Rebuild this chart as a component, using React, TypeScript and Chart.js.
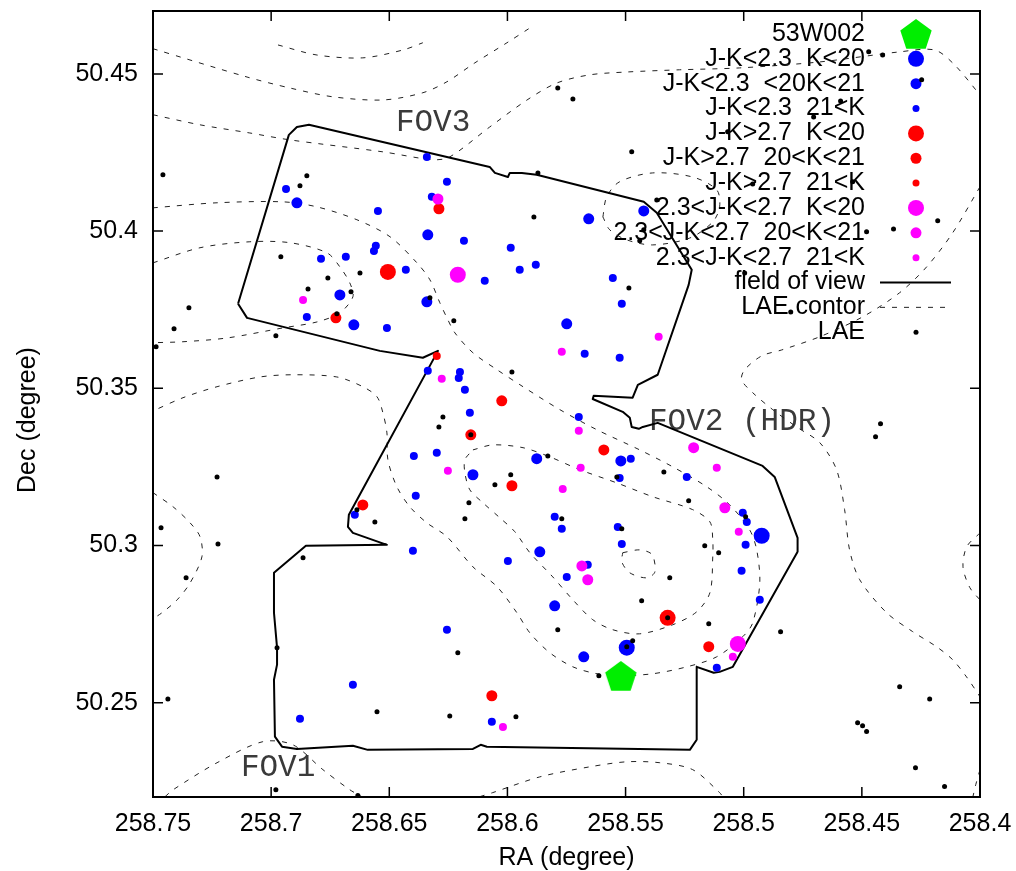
import React, { useEffect, useRef } from "react";
import { Chart, registerables } from "chart.js";

Chart.register(...registerables);

type P = [number, number];

// ---- axes ----
const raRange: P = [258.4, 258.75];
const decRange: P = [50.22, 50.47];
const xTickValues = [258.75, 258.7, 258.65, 258.6, 258.55, 258.5, 258.45, 258.4];
const yTickValues = [50.25, 50.3, 50.35, 50.4, 50.45];
const xTitle = "RA (degree)";
const yTitle = "Dec (degree)";

// ---- objects (RA, Dec) ----
const target53W002: P[] = [[258.552, 50.2585]];

const blueBright: P[] = [[258.5495, 50.2675], [258.4924, 50.3031]];
const blueMid: P[] = [
  [258.6891, 50.409], [258.6337, 50.3988], [258.6709, 50.3797], [258.665, 50.3702],
  [258.6341, 50.3775], [258.5749, 50.3705], [258.5423, 50.4064], [258.5656, 50.4039],
  [258.5876, 50.3276], [258.552, 50.3269], [258.6146, 50.3225], [258.5863, 50.298],
  [258.58, 50.2808], [258.5677, 50.2646],
];
const blueFaint: P[] = [
  [258.6341, 50.4236], [258.6937, 50.4134], [258.6256, 50.4157], [258.632, 50.4109],
  [258.6548, 50.4064], [258.6557, 50.3953], [258.6565, 50.3937], [258.6789, 50.3912],
  [258.6684, 50.3918], [258.643, 50.3877], [258.6849, 50.3727], [258.651, 50.3692],
  [258.6337, 50.3556], [258.6396, 50.3285], [258.6299, 50.3295], [258.6388, 50.3158],
  [258.6646, 50.3098], [258.6096, 50.3842], [258.5948, 50.3877], [258.588, 50.3893],
  [258.5554, 50.3851], [258.5516, 50.3769], [258.5673, 50.361], [258.5525, 50.3597],
  [258.6201, 50.3552], [258.6206, 50.3533], [258.618, 50.3495], [258.6159, 50.3422],
  [258.5698, 50.3409], [258.5478, 50.3276], [258.5241, 50.3218], [258.5525, 50.3215],
  [258.58, 50.3091], [258.577, 50.3053], [258.5533, 50.3059], [258.5004, 50.3104],
  [258.4987, 50.3075], [258.4992, 50.3002], [258.5009, 50.292], [258.5516, 50.3005],
  [258.5998, 50.2951], [258.566, 50.2939], [258.5749, 50.29], [258.6256, 50.2732],
  [258.5114, 50.2611], [258.6066, 50.2439], [258.64, 50.2983], [258.6654, 50.2557],
  [258.6878, 50.2449], [258.6184, 50.3969], [258.5986, 50.3947], [258.4932, 50.2827],
];

const redBright: P[] = [[258.6506, 50.387], [258.5322, 50.277]];
const redMid: P[] = [
  [258.629, 50.4071], [258.6726, 50.3724], [258.6024, 50.346], [258.6155, 50.3352],
  [258.5592, 50.3304], [258.5981, 50.319], [258.6612, 50.3129], [258.5148, 50.2678],
  [258.6066, 50.2522],
];
const redFaint: P[] = [[258.6299, 50.3603]];

const magentaBright: P[] = [[258.621, 50.3861], [258.5025, 50.2687]];
const magentaMid: P[] = [
  [258.5212, 50.3311], [258.508, 50.312], [258.5685, 50.2935], [258.566, 50.2891],
  [258.6294, 50.4102],
];
const magentaFaint: P[] = [
  [258.6865, 50.3781], [258.6278, 50.353], [258.577, 50.3616], [258.536, 50.3664],
  [258.5698, 50.3365], [258.5114, 50.3247], [258.569, 50.3247], [258.6252, 50.3238],
  [258.5766, 50.318], [258.5021, 50.3044], [258.5046, 50.2646], [258.6019, 50.2423],
];

const lae: P[] = [
  [258.7458, 50.4179], [258.6849, 50.4176], [258.6878, 50.4144], [258.6959, 50.3918],
  [258.676, 50.3851], [258.6624, 50.3867], [258.6844, 50.3816], [258.6662, 50.3807],
  [258.6722, 50.3737], [258.6328, 50.3788], [258.7348, 50.3756], [258.7411, 50.3689],
  [258.698, 50.3667], [258.7487, 50.3632], [258.6273, 50.3409], [258.629, 50.3377],
  [258.6637, 50.3114], [258.6561, 50.3075], [258.7229, 50.3218], [258.7466, 50.3056],
  [258.5486, 50.3819], [258.6227, 50.3715], [258.5981, 50.3552], [258.6155, 50.3352],
  [258.5829, 50.3285], [258.5338, 50.3234], [258.5537, 50.3218], [258.5986, 50.3225],
  [258.6053, 50.3193], [258.5233, 50.3142], [258.6163, 50.3136], [258.618, 50.3085],
  [258.577, 50.3085], [258.5516, 50.3053], [258.4421, 50.3387], [258.4442, 50.3346],
  [258.4992, 50.3091], [258.5165, 50.2999], [258.5106, 50.2977], [258.5313, 50.2897],
  [258.5432, 50.2824], [258.5322, 50.277], [258.5148, 50.2751], [258.5787, 50.2732],
  [258.5495, 50.2678], [258.547, 50.2697], [258.621, 50.2659], [258.5613, 50.2586],
  [258.6244, 50.2458], [258.5964, 50.2455], [258.4844, 50.2726], [258.434, 50.2551],
  [258.4213, 50.2512], [258.4518, 50.2436], [258.4497, 50.2427], [258.448, 50.2408],
  [258.4273, 50.2293], [258.415, 50.2233], [258.7225, 50.3005], [258.736, 50.2897],
  [258.6865, 50.2961], [258.6975, 50.2675], [258.7437, 50.2512], [258.6552, 50.2471],
  [258.698, 50.2223], [258.6633, 50.2205], [258.5787, 50.4455], [258.5723, 50.442],
  [258.5474, 50.4252], [258.5871, 50.4185], [258.5368, 50.4099], [258.5888, 50.4045],
  [258.5423, 50.4004], [258.544, 50.3969], [258.5068, 50.4316], [258.4471, 50.457],
  [258.4412, 50.456], [258.4247, 50.4481], [258.459, 50.4414], [258.4704, 50.4363],
  [258.4962, 50.415], [258.4539, 50.4157], [258.4179, 50.4033], [258.4366, 50.4007],
  [258.448, 50.3998], [258.4996, 50.3867], [258.4801, 50.3743],
];

// ---- field of view outline ----
const fieldOfView: P[] = [
  [258.714, 50.3769], [258.6925, 50.4306], [258.6891, 50.4331], [258.684, 50.4338],
  [258.6075, 50.4204], [258.6053, 50.4185], [258.5998, 50.4172], [258.599, 50.4185],
  [258.5939, 50.4185], [258.5876, 50.4179], [258.5423, 50.4093], [258.5368, 50.4058],
  [258.522, 50.3877], [258.5233, 50.3829], [258.5364, 50.3543], [258.5448, 50.3511],
  [258.547, 50.347], [258.5635, 50.3476], [258.5639, 50.3466], [258.5512, 50.3425],
  [258.5482, 50.3406], [258.5474, 50.3377], [258.5444, 50.3371], [258.5427, 50.3377],
  [258.5364, 50.339], [258.492, 50.3253], [258.4869, 50.3218], [258.4772, 50.3024],
  [258.4772, 50.298], [258.5046, 50.2614], [258.5102, 50.2598], [258.5127, 50.2595],
  [258.5199, 50.2614], [258.5199, 50.2382], [258.5228, 50.235], [258.6087, 50.236],
  [258.6113, 50.2366], [258.6146, 50.2353], [258.6591, 50.235], [258.6654, 50.2363],
  [258.6891, 50.2353], [258.6954, 50.236], [258.6984, 50.2392], [258.6988, 50.2573],
  [258.6975, 50.2621], [258.6975, 50.2675], [258.6988, 50.2786], [258.6988, 50.2913],
  [258.6853, 50.2999], [258.651, 50.3002], [258.6654, 50.304], [258.6675, 50.3059],
  [258.6671, 50.3098], [258.6294, 50.3619], [258.6358, 50.3597], [258.654, 50.3619],
  [258.7102, 50.3724], [258.714, 50.3769],
];

// ---- LAE density contours ----
const contourA: P[] = [
  [258.75, 50.458], [258.7102, 50.449], [258.692, 50.4455], [258.6738, 50.4427],
  [258.6527, 50.4417], [258.6358, 50.444], [258.6256, 50.4475], [258.6138, 50.4535],
  [258.6002, 50.4599], [258.5905, 50.4646],
];
const contourB: P[] = [
  [258.6971, 50.4592], [258.6806, 50.456], [258.6612, 50.4551], [258.6442, 50.4576],
  [258.6358, 50.4599],
];
const contourC: P[] = [
  [258.75, 50.437], [258.7301, 50.4338], [258.709, 50.4312], [258.692, 50.429],
  [258.6527, 50.4252], [258.6316, 50.4227], [258.6244, 50.4236], [258.6075, 50.4331],
  [258.5917, 50.4417], [258.5791, 50.4471], [258.5651, 50.4497], [258.5495, 50.4506],
  [258.5271, 50.4513], [258.5017, 50.4519], [258.4678, 50.4538], [258.434, 50.457],
  [258.4192, 50.4576], [258.4108, 50.4529], [258.4, 50.4433],
];
const contourD: P[] = [
  [258.4, 50.4141], [258.4116, 50.3994], [258.4226, 50.3886], [258.434, 50.3804],
  [258.4497, 50.3727], [258.4678, 50.3664], [258.4839, 50.3622], [258.4924, 50.3603],
  [258.4996, 50.3559], [258.5009, 50.3527], [258.4962, 50.3486], [258.4877, 50.3432],
  [258.4776, 50.3377], [258.4678, 50.3327], [258.4607, 50.3241], [258.4573, 50.3114],
  [258.4552, 50.2986], [258.4509, 50.2891], [258.4395, 50.2786], [258.4285, 50.2726],
  [258.4184, 50.2678], [258.4116, 50.2637], [258.4057, 50.2582], [258.4, 50.2519],
];
const contourE: P[] = [
  [258.5596, 50.4045], [258.558, 50.4109], [258.5525, 50.4157], [258.5385, 50.4185],
  [258.5216, 50.4172], [258.5114, 50.4131], [258.5102, 50.4077], [258.5131, 50.4029],
  [258.5228, 50.3978], [258.5385, 50.3956], [258.5495, 50.3972], [258.5567, 50.4004],
  [258.5596, 50.4045],
];
const contourF: P[] = [
  [258.75, 50.4074], [258.7229, 50.409], [258.695, 50.4093], [258.6806, 50.4077],
  [258.6637, 50.4036], [258.6497, 50.3982], [258.6383, 50.3899], [258.6328, 50.3845],
  [258.6286, 50.3772], [258.6256, 50.3724], [258.6222, 50.3676], [258.6146, 50.3613],
  [258.6044, 50.3559], [258.5934, 50.3505], [258.5778, 50.3432], [258.5621, 50.3368],
  [258.544, 50.3304], [258.53, 50.325], [258.5157, 50.3187], [258.5059, 50.3129],
  [258.4975, 50.305], [258.4945, 50.2986], [258.4932, 50.2881], [258.4962, 50.2754],
  [258.5004, 50.271], [258.5114, 50.2646], [258.5241, 50.2614], [258.5385, 50.2592],
  [258.5525, 50.2586], [258.5621, 50.2592], [258.5723, 50.2614], [258.5821, 50.2659],
  [258.5905, 50.2722], [258.596, 50.2786], [258.6044, 50.2869], [258.6146, 50.2932],
  [258.6256, 50.3028], [258.6341, 50.3072], [258.6413, 50.3123], [258.6468, 50.3187],
  [258.6506, 50.3273], [258.651, 50.3358], [258.6527, 50.3422], [258.6552, 50.3473],
  [258.6612, 50.3505], [258.6722, 50.3536], [258.6908, 50.3543], [258.7047, 50.3536],
  [258.7229, 50.3505], [258.7373, 50.347], [258.75, 50.3428],
];
const contourH: P[] = [
  [258.75, 50.3899], [258.7301, 50.3947], [258.709, 50.3966], [258.692, 50.3963],
  [258.6764, 50.3931], [258.6709, 50.3886], [258.6667, 50.3835], [258.6654, 50.3791],
  [258.6709, 50.374], [258.6806, 50.3711], [258.695, 50.3692], [258.7187, 50.366],
  [258.7373, 50.3648], [258.75, 50.3645],
];
const contourI: P[] = [
  [258.6146, 50.3304], [258.6062, 50.332], [258.5934, 50.3311], [258.5821, 50.3282],
  [258.5694, 50.3241], [258.5537, 50.3199], [258.5385, 50.3155], [258.5216, 50.3114],
  [258.5143, 50.3075], [258.5131, 50.3018], [258.5131, 50.2964], [258.5143, 50.285],
  [258.5199, 50.2789], [258.53, 50.2748], [258.544, 50.2719], [258.5554, 50.2732],
  [258.5639, 50.2764], [258.5723, 50.2827], [258.5808, 50.29], [258.5905, 50.2977],
  [258.5969, 50.3044], [258.6032, 50.3088], [258.6104, 50.3136], [258.6159, 50.3177],
  [258.618, 50.3231], [258.618, 50.3273], [258.6146, 50.3304],
];
const contourJ: P[] = [
  [258.5512, 50.2977], [258.544, 50.2986], [258.5388, 50.2971], [258.5376, 50.2916],
  [258.541, 50.2897], [258.5482, 50.2913], [258.5516, 50.2948], [258.5512, 50.2977],
];
const contourK: P[] = [
  [258.6117, 50.2201], [258.6062, 50.2214], [258.5863, 50.2264], [258.5651, 50.2296],
  [258.5495, 50.2312], [258.5355, 50.2309], [258.5216, 50.2287], [258.5102, 50.2214],
  [258.5089, 50.2201],
];
const contourL: P[] = [
  [258.7449, 50.2201], [258.7415, 50.2223], [258.7229, 50.2309], [258.7035, 50.2376],
  [258.6908, 50.2366], [258.6781, 50.2287], [258.6667, 50.2223], [258.6616, 50.2201],
];
const contourM: P[] = [
  [258.75, 50.3168], [258.7415, 50.3123], [258.7343, 50.3072], [258.7301, 50.3028],
  [258.7293, 50.2964], [258.7343, 50.2881], [258.7398, 50.2827], [258.7462, 50.2786],
  [258.75, 50.2767],
];
const contourN: P[] = [
  [258.4, 50.304], [258.4056, 50.2996], [258.4072, 50.2932], [258.4043, 50.2866],
  [258.4, 50.2827],
];
const contourO: P[] = [[258.4, 50.2287], [258.4018, 50.2239], [258.403, 50.2201]];

// ---- annotations ----
const fovLabelText = ["FOV3", "FOV2 (HDR)", "FOV1"];
const fovLabelPos: P[] = [[258.6472, 50.4344], [258.5401, 50.3393], [258.7128, 50.2293]];

const legendLabels = [
  "53W002",
  "J-K<2.3  K<20",
  "J-K<2.3  <20K<21",
  "J-K<2.3  21<K",
  "J-K>2.7  K<20",
  "J-K>2.7  20<K<21",
  "J-K>2.7  21<K",
  "2.3<J-K<2.7  K<20",
  "2.3<J-K<2.7  20<K<21",
  "2.3<J-K<2.7  21<K",
  "field of view",
  "LAE contor",
  "LAE",
];

// ---- styles ----
const SANS = '"Liberation Sans", Arial, Helvetica, sans-serif';
const MONO = '"Liberation Mono", "Courier New", monospace';
const BLUE = "#0000ff";
const RED = "#ff0000";
const MAGENTA = "#ff00ff";
const GREEN = "#00ee00";
const R_BIG = 8;
const R_MID = 5.5;
const R_FAINT = 4;
const R_LAE = 2.5;
const CONTOUR_DASH = [5, 7];
const TEXT_SIZE = 25;

type Sym =
  | { kind: "pent" }
  | { kind: "dot"; color: string; r: number }
  | { kind: "line"; color: string; width: number; dash: number[] };

const legendSymbols: Sym[] = [
  { kind: "pent" },
  { kind: "dot", color: BLUE, r: R_BIG },
  { kind: "dot", color: BLUE, r: R_MID },
  { kind: "dot", color: BLUE, r: 3.5 },
  { kind: "dot", color: RED, r: R_BIG },
  { kind: "dot", color: RED, r: R_MID },
  { kind: "dot", color: RED, r: 3.5 },
  { kind: "dot", color: MAGENTA, r: R_BIG },
  { kind: "dot", color: MAGENTA, r: R_MID },
  { kind: "dot", color: MAGENTA, r: 3.5 },
  { kind: "line", color: "#000", width: 2, dash: [] },
  { kind: "line", color: "#222", width: 1, dash: CONTOUR_DASH },
  { kind: "dot", color: "#000", r: R_LAE },
];

const toXY = (arr: P[]) => arr.map(([x, y]) => ({ x, y }));

function dots(label: string, arr: P[], color: string, r: number, order: number) {
  return {
    label,
    data: toXY(arr),
    showLine: false,
    pointRadius: r,
    pointHoverRadius: r,
    pointBackgroundColor: color,
    pointBorderColor: color,
    pointBorderWidth: 0,
    pointHoverBorderWidth: 0,
    order,
  };
}

function path(label: string, arr: P[], color: string, width: number, dash: number[], tension: number, order: number) {
  return {
    label,
    data: toXY(arr),
    showLine: true,
    borderColor: color,
    backgroundColor: color,
    borderWidth: width,
    borderDash: dash,
    borderJoinStyle: "round" as const,
    tension,
    pointRadius: 0,
    pointHoverRadius: 0,
    fill: false,
    order,
  };
}

function makePentagon(R: number, color: string) {
  const w = Math.ceil(2 * R * Math.sin((2 * Math.PI) / 5)) + 2;
  const h = Math.ceil(R * (1 + Math.cos(Math.PI / 5))) + 2;
  const c = document.createElement("canvas");
  c.width = w;
  c.height = h;
  const ctx = c.getContext("2d")!;
  const cx = w / 2;
  const cy = 1 + R;
  ctx.beginPath();
  for (let i = 0; i < 5; i++) {
    const a = -Math.PI / 2 + (i * 2 * Math.PI) / 5;
    const px = cx + R * Math.cos(a);
    const py = cy + R * Math.sin(a);
    if (i === 0) ctx.moveTo(px, py);
    else ctx.lineTo(px, py);
  }
  ctx.closePath();
  ctx.fillStyle = color;
  ctx.fill();
  return c;
}

const fmt = (v: number) => String(Number(v.toFixed(2)));

function makeOverlay(pent: HTMLCanvasElement) {
  return {
    id: "overlay",
    beforeDatasetsDraw(chart: any) {
      const { ctx, chartArea: a, scales } = chart;
      ctx.save();
      // legend
      ctx.font = `${TEXT_SIZE}px ${SANS}`;
      ctx.textAlign = "right";
      ctx.textBaseline = "middle";
      const textX = a.right - 115;
      const symX = a.right - 64;
      legendLabels.forEach((label, i) => {
        const y = a.top + 23 + i * 24.85;
        ctx.fillStyle = "#000";
        ctx.fillText(label, textX, y);
        const s = legendSymbols[i];
        if (s.kind === "pent") {
          ctx.drawImage(pent, symX - pent.width / 2, y - pent.height / 2);
        } else if (s.kind === "dot") {
          ctx.beginPath();
          ctx.arc(symX, y, s.r, 0, Math.PI * 2);
          ctx.fillStyle = s.color;
          ctx.fill();
        } else {
          ctx.beginPath();
          ctx.setLineDash(s.dash);
          ctx.lineWidth = s.width;
          ctx.strokeStyle = s.color;
          ctx.moveTo(a.right - 100, y);
          ctx.lineTo(a.right - 29, y);
          ctx.stroke();
          ctx.setLineDash([]);
        }
      });
      // FOV labels
      ctx.font = `31px ${MONO}`;
      ctx.textAlign = "left";
      ctx.textBaseline = "middle";
      ctx.fillStyle = "#3a3a3a";
      fovLabelText.forEach((t, i) => {
        const [ra, dec] = fovLabelPos[i];
        ctx.fillText(t, scales.x.getPixelForValue(ra), scales.y.getPixelForValue(dec));
      });
      ctx.restore();
    },
    afterDraw(chart: any) {
      const { ctx, chartArea: a, scales } = chart;
      ctx.save();
      ctx.strokeStyle = "#000";
      ctx.lineWidth = 2;
      ctx.strokeRect(a.left, a.top, a.right - a.left, a.bottom - a.top);
      ctx.lineWidth = 1.5;
      ctx.beginPath();
      for (const v of xTickValues) {
        const px = scales.x.getPixelForValue(v);
        ctx.moveTo(px, a.bottom);
        ctx.lineTo(px, a.bottom - 10);
        ctx.moveTo(px, a.top);
        ctx.lineTo(px, a.top + 10);
      }
      for (const v of yTickValues) {
        const py = scales.y.getPixelForValue(v);
        ctx.moveTo(a.left, py);
        ctx.lineTo(a.left + 10, py);
        ctx.moveTo(a.right, py);
        ctx.lineTo(a.right - 10, py);
      }
      ctx.stroke();
      // axis titles
      ctx.fillStyle = "#000";
      ctx.font = `${TEXT_SIZE}px ${SANS}`;
      ctx.textAlign = "center";
      ctx.textBaseline = "middle";
      ctx.fillText(xTitle, (a.left + a.right) / 2, a.bottom + 61);
      ctx.translate(28, (a.top + a.bottom) / 2 + 16);
      ctx.rotate(-Math.PI / 2);
      ctx.fillText(yTitle, 0, 0);
      ctx.restore();
    },
  };
}

export default function App() {
  const ref = useRef<HTMLCanvasElement>(null);

  useEffect(() => {
    const canvas = ref.current;
    if (!canvas) return;
    const pent = makePentagon(16.5, GREEN);

    const datasets: any[] = [
      {
        label: "53W002",
        data: toXY(target53W002),
        showLine: false,
        pointStyle: pent,
        pointRadius: 16,
        pointHoverRadius: 16,
        order: 0,
      },
      dots("LAE", lae, "#000", R_LAE, 1),
      dots("2.3<J-K<2.7 K<20", magentaBright, MAGENTA, R_BIG, 2),
      dots("2.3<J-K<2.7 20<K<21", magentaMid, MAGENTA, R_MID, 2),
      dots("2.3<J-K<2.7 21<K", magentaFaint, MAGENTA, R_FAINT, 2),
      dots("J-K>2.7 K<20", redBright, RED, R_BIG, 2),
      dots("J-K>2.7 20<K<21", redMid, RED, R_MID, 2),
      dots("J-K>2.7 21<K", redFaint, RED, R_FAINT, 2),
      dots("J-K<2.3 K<20", blueBright, BLUE, R_BIG, 2),
      dots("J-K<2.3 20<K<21", blueMid, BLUE, R_MID, 2),
      dots("J-K<2.3 21<K", blueFaint, BLUE, R_FAINT, 2),
      path("field of view", fieldOfView, "#000", 2, [], 0, 3),
    ];
    const contours = [contourA, contourB, contourC, contourD, contourE, contourF, contourH, contourI, contourJ, contourK, contourL, contourM, contourN, contourO];
    contours.forEach((c, i) => datasets.push(path(`LAE contor ${i}`, c, "#222", 1, CONTOUR_DASH, 0.3, 4)));

    const tickFont = { family: SANS, size: TEXT_SIZE };

    const chart = new Chart(canvas, {
      type: "scatter",
      data: { datasets },
      options: {
        responsive: false,
        animation: false,
        devicePixelRatio: 1,
        events: [],
        layout: { autoPadding: false, padding: { top: 11, right: 36, bottom: 0, left: 0 } },
        plugins: { legend: { display: false }, tooltip: { enabled: false } },
        scales: {
          x: {
            type: "linear",
            min: raRange[0],
            max: raRange[1],
            reverse: true,
            grid: { display: false, drawTicks: false },
            border: { display: false },
            ticks: {
              color: "#000",
              font: tickFont,
              padding: 12,
              autoSkip: false,
              maxRotation: 0,
              callback: (v: any) => fmt(Number(v)),
            },
            afterBuildTicks: (s: any) => {
              s.ticks = xTickValues.map((value) => ({ value }));
            },
            afterFit: (s: any) => {
              s.height = 74;
              s.paddingLeft = 0;
              s.paddingRight = 0;
              s.paddingTop = 0;
              s.paddingBottom = 0;
            },
          },
          y: {
            type: "linear",
            min: decRange[0],
            max: decRange[1],
            grid: { display: false, drawTicks: false },
            border: { display: false },
            ticks: {
              color: "#000",
              font: tickFont,
              padding: 15,
              autoSkip: false,
              callback: (v: any) => fmt(Number(v)),
            },
            afterBuildTicks: (s: any) => {
              s.ticks = yTickValues.map((value) => ({ value }));
            },
            afterFit: (s: any) => {
              s.width = 153;
              s.paddingLeft = 0;
              s.paddingRight = 0;
              s.paddingTop = 0;
              s.paddingBottom = 0;
            },
          },
        },
      } as any,
      plugins: [makeOverlay(pent)],
    });

    return () => chart.destroy();
  }, []);

  return (
    <div style={{ position: "absolute", left: 0, top: 0, width: 1016, height: 871, background: "#fff" }}>
      <canvas ref={ref} width={1016} height={871} style={{ display: "block", width: 1016, height: 871 }} />
    </div>
  );
}
